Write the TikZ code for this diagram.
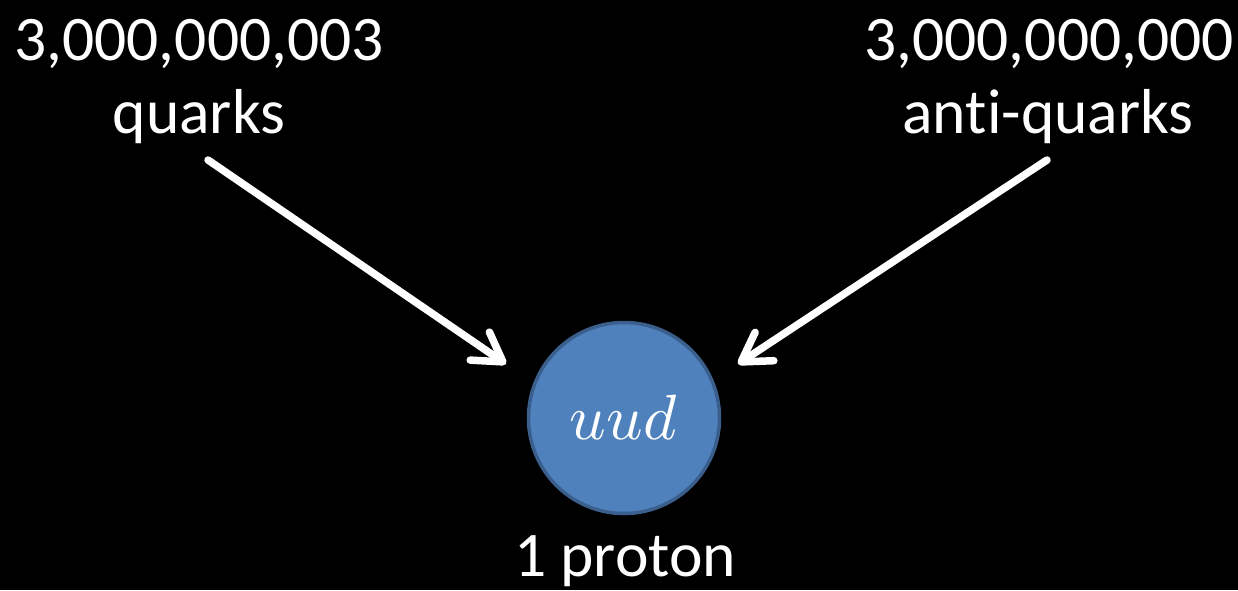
\documentclass[tikz,border=0pt]{standalone}
\usepackage{unicode-math}
\setmainfont{Carlito}[Ligatures=NoCommon]
\setmathfont{Latin Modern Math}
\usetikzlibrary{arrows.meta}
\definecolor{pfill}{HTML}{4F81BD}
\definecolor{pborder}{HTML}{3B5F8C}
\tikzset{
  lbl/.style={text=white, font=\fontsize{63.5}{73}\selectfont, anchor=base, inner sep=0pt},
  bigarrow/.style={draw=white, line width=7.5pt, line cap=round,
    -{Straight Barb[length=28pt, width=34pt, line cap=round, line join=round]}},
  proton/.style={circle, fill=pfill, draw=pborder, line width=3.5pt, minimum size=191pt, inner sep=0pt,
    text=white, font=\fontsize{64}{70}\selectfont}
}
\begin{document}
\begin{tikzpicture}[x=1pt, y=-1pt]
\fill[black] (0,0) rectangle (1238,590);
\useasboundingbox (0,0) rectangle (1238,590);
\node[lbl] (lnum) at (199,60) {3,000,000,003};
\node[lbl] (lword) at (199,133) {quarks};
\node[lbl] (rnum) at (1049,60) {3,000,000,000};
\node[lbl] (rword) at (1048,133) {anti-quarks};
\node[proton] (p) at (624,418) {$uud$};
\node[lbl] (pl) at (625,576) {1 proton};
\coordinate (ls) at (208,160);
\coordinate (lt) at (506,364);
\coordinate (rs) at (1047,160);
\coordinate (rt) at (738,364);
\draw[bigarrow] (ls) -- (lt);
\draw[bigarrow] (rs) -- (rt);
\end{tikzpicture}
\end{document}
